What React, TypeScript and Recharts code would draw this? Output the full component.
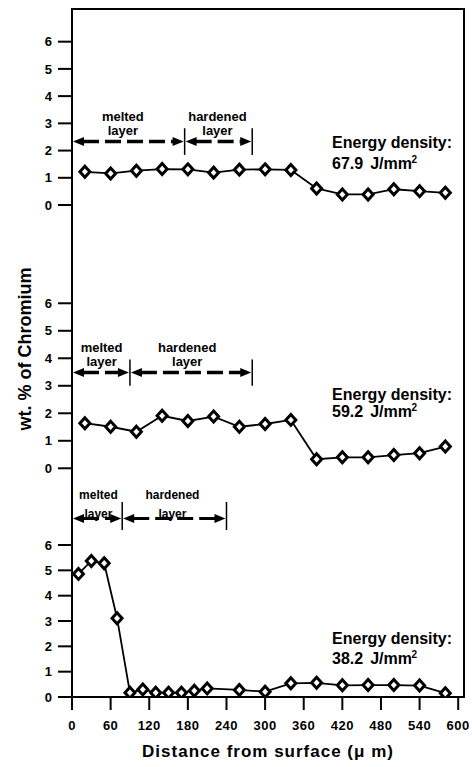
import React from 'react';
import { LineChart, Line, XAxis, YAxis, ReferenceLine, ReferenceDot, ReferenceArea } from 'recharts';

// ---------- data ----------
const distance67 = [20, 60, 100, 140, 180, 220, 260, 300, 340, 380, 420, 460, 500, 540, 580];
const chromium67 = [1.22, 1.16, 1.26, 1.32, 1.31, 1.19, 1.3, 1.31, 1.29, 0.61, 0.39, 0.39, 0.58, 0.51, 0.45];

const distance59 = [20, 60, 100, 140, 180, 220, 260, 300, 340, 380, 420, 460, 500, 540, 580];
const chromium59 = [1.64, 1.51, 1.33, 1.91, 1.72, 1.88, 1.51, 1.61, 1.76, 0.33, 0.4, 0.4, 0.48, 0.55, 0.79];

const distance38 = [10, 30, 50, 70, 90, 110, 130, 150, 170, 190, 210, 260, 300, 340, 380, 420, 460, 500, 540, 580];
const chromium38 = [4.86, 5.37, 5.28, 3.11, 0.17, 0.3, 0.17, 0.17, 0.17, 0.25, 0.34, 0.28, 0.21, 0.54, 0.56, 0.46, 0.47, 0.47, 0.45, 0.15];

const xTicks = [0, 60, 120, 180, 240, 300, 360, 420, 480, 540, 600];
const yTicks = [0, 1, 2, 3, 4, 5, 6];

const energyValues = ['67.9', '59.2', '38.2'];
const layerBounds67 = [0, 175, 280];
const layerBounds59 = [0, 90, 280];
const layerBounds38 = [0, 78, 240];

const xTitle = 'Distance from surface (\u03bc m)';
const yTitle = 'wt. % of Chromium';

// ---------- layout ----------
const W = 472;
const H = 767;
const X_MAX = 609;
const MARGIN = { top: 9, right: 8, bottom: 0, left: 12 };
const FONT = '"Liberation Sans", Arial, Helvetica, sans-serif';

const toRows = (xs: number[], ys: number[]) => xs.map((x, i) => ({ x, y: ys[i] }));

const panels = [
  {
    key: 'p67',
    data: toRows(distance67, chromium67),
    domain: [-18.07, 7.2],
    bounds: layerBounds67,
    arrowY: 2.33,
    bar: [1.84, 2.82],
    arrowW: 3.5,
    layerFont: 13,
    melted: { x: 79, y1: 3.24, y2: 2.73 },
    hardened: { x: 226, y1: 3.24, y2: 2.73 },
    energy: { x: 404, y1: 2.29, y2: 1.53 },
    value: energyValues[0],
    bottom: false,
  },
  {
    key: 'p59',
    data: toRows(distance59, chromium59),
    domain: [-8.316, 16.7],
    bounds: layerBounds59,
    arrowY: 3.48,
    bar: [3.0, 3.96],
    arrowW: 3.5,
    layerFont: 13,
    melted: { x: 46, y1: 4.39, y2: 3.88 },
    hardened: { x: 179, y1: 4.39, y2: 3.88 },
    energy: { x: 404, y1: 2.67, y2: 2.06 },
    value: energyValues[1],
    bottom: false,
  },
  {
    key: 'p38',
    data: toRows(distance38, chromium38),
    domain: [0, 27.16],
    bounds: layerBounds38,
    arrowY: 7.05,
    bar: [6.59, 7.7],
    arrowW: 3,
    layerFont: 12,
    melted: { x: 41, y1: 7.97, y2: 7.25 },
    hardened: { x: 156, y1: 7.97, y2: 7.25 },
    energy: { x: 404, y1: 2.32, y2: 1.53 },
    value: energyValues[2],
    bottom: true,
  },
];

// ---------- shapes ----------
const renderDiamond = (props: any) => {
  const { cx, cy, index } = props;
  if (cx == null || cy == null) return <g key={`d-${index}`} />;
  return (
    <path
      key={`d-${index}`}
      d={`M${cx},${cy - 5.5}L${cx + 5},${cy}L${cx},${cy + 5.5}L${cx - 5},${cy}Z`}
      fill="#fff"
      stroke="#000"
      strokeWidth={3}
      strokeLinejoin="miter"
    />
  );
};

const makeArrow = (thick: number) => (props: any) => {
  const { x1, y1, x2 } = props;
  const y = y1;
  const head = 11;
  const hw = 4.5;
  const a = Math.min(x1, x2) + 1;
  const b = Math.max(x1, x2) - 1;
  return (
    <g>
      <line x1={a + head - 1} y1={y} x2={b - head + 1} y2={y} stroke="#000" strokeWidth={thick} strokeDasharray="16 6" />
      <path d={`M${a},${y}L${a + head},${y - hw}L${a + head},${y + hw}Z`} fill="#000" />
      <path d={`M${b},${y}L${b - head},${y - hw}L${b - head},${y + hw}Z`} fill="#000" />
    </g>
  );
};

const makeText = (text: string, size: number, anchor: 'start' | 'middle') => (props: any) => (
  <text
    x={props.cx}
    y={props.cy}
    dy="0.35em"
    textAnchor={anchor}
    fontFamily={FONT}
    fontWeight="bold"
    fontSize={size}
    fill="#000"
  >
    {text}
  </text>
);

const makeEnergyValue = (value: string) => (props: any) => (
  <text x={props.cx} y={props.cy} dy="0.35em" fontFamily={FONT} fontWeight="bold" fontSize={16} fill="#000">
    {value}
    <tspan dx={7}>J/mm</tspan>
    <tspan fontSize={10} dx={-0.5} dy={-6}>2</tspan>
  </text>
);

const XTitle = (props: any) => {
  const vb = props.viewBox || { x: 72, y: 697, width: 392, height: 70 };
  return (
    <text
      x={vb.x + vb.width / 2}
      y={vb.y + 60}
      textAnchor="middle"
      fontFamily={FONT}
      fontWeight="bold"
      fontSize={17}
      letterSpacing={1}
      fill="#000"
    >
      {xTitle}
    </text>
  );
};

const YTitle = (props: any) => {
  const vb = props.viewBox || { x: 12, y: 9, width: 60, height: 688 };
  const cx = 25;
  const cy = vb.y + vb.height / 2 - 4;
  return (
    <text
      x={cx}
      y={cy}
      dy="0.35em"
      transform={`rotate(-90, ${cx}, ${cy})`}
      textAnchor="middle"
      fontFamily={FONT}
      fontWeight="bold"
      fontSize={18}
      fill="#000"
    >
      {yTitle}
    </text>
  );
};

const tickStyle = { fill: '#000', fontSize: 13, fontWeight: 'bold', fontFamily: FONT } as any;

function Panel({ p }: { p: (typeof panels)[number] }) {
  const [b0, b1, b2] = p.bounds;
  return (
    <LineChart width={W} height={H} data={p.data} margin={MARGIN}>
      <XAxis
        dataKey="x"
        type="number"
        domain={[0, X_MAX]}
        allowDataOverflow
        ticks={xTicks}
        interval={0}
        height={70}
        tick={p.bottom ? { ...tickStyle, letterSpacing: 0.5 } : false}
        tickLine={p.bottom ? { stroke: '#000', strokeWidth: 2 } : false}
        axisLine={p.bottom ? { stroke: '#000', strokeWidth: 2 } : false}
        tickSize={13}
        tickMargin={11}
        label={p.bottom ? (lp: any) => <XTitle {...lp} /> : undefined}
      />
      <YAxis
        type="number"
        domain={p.domain as [number, number]}
        allowDataOverflow
        ticks={yTicks}
        interval={0}
        width={60}
        tick={tickStyle}
        tickLine={{ stroke: '#000', strokeWidth: 2 }}
        axisLine={p.bottom ? { stroke: '#000', strokeWidth: 2 } : false}
        tickSize={14}
        tickMargin={6}
        label={p.bottom ? (lp: any) => <YTitle {...lp} /> : undefined}
      />
      {p.bottom && (
        <ReferenceArea
          x1={0}
          x2={X_MAX}
          y1={p.domain[0]}
          y2={p.domain[1]}
          fill="none"
          fillOpacity={0}
          stroke="#000"
          strokeWidth={2}
          ifOverflow="visible"
        />
      )}
      <ReferenceLine
        segment={[{ x: b0, y: p.arrowY }, { x: b1, y: p.arrowY }]}
        shape={makeArrow(p.arrowW)}
        ifOverflow="visible"
      />
      <ReferenceLine
        segment={[{ x: b1, y: p.arrowY }, { x: b2, y: p.arrowY }]}
        shape={makeArrow(p.arrowW)}
        ifOverflow="visible"
      />
      <ReferenceLine
        segment={[{ x: b1, y: p.bar[0] }, { x: b1, y: p.bar[1] }]}
        stroke="#000"
        strokeWidth={1.5}
        ifOverflow="visible"
      />
      <ReferenceLine
        segment={[{ x: b2, y: p.bar[0] }, { x: b2, y: p.bar[1] }]}
        stroke="#000"
        strokeWidth={1.5}
        ifOverflow="visible"
      />
      <ReferenceDot x={p.melted.x} y={p.melted.y1} r={0} ifOverflow="visible" shape={makeText('melted', p.layerFont, 'middle')} />
      <ReferenceDot x={p.melted.x} y={p.melted.y2} r={0} ifOverflow="visible" shape={makeText('layer', p.layerFont, 'middle')} />
      <ReferenceDot x={p.hardened.x} y={p.hardened.y1} r={0} ifOverflow="visible" shape={makeText('hardened', p.layerFont, 'middle')} />
      <ReferenceDot x={p.hardened.x} y={p.hardened.y2} r={0} ifOverflow="visible" shape={makeText('layer', p.layerFont, 'middle')} />
      <ReferenceDot x={p.energy.x} y={p.energy.y1} r={0} ifOverflow="visible" shape={makeText('Energy density:', 16, 'start')} />
      <ReferenceDot x={p.energy.x} y={p.energy.y2} r={0} ifOverflow="visible" shape={makeEnergyValue(p.value)} />
      <Line
        dataKey="y"
        stroke="#000"
        strokeWidth={1.8}
        dot={renderDiamond}
        activeDot={false}
        isAnimationActive={false}
      />
    </LineChart>
  );
}

export default function App() {
  return (
    <div style={{ position: 'absolute', left: 0, top: 0, width: W, height: H, background: '#fff' }}>
      {panels.map((p) => (
        <div key={p.key} style={{ position: 'absolute', left: 0, top: 0, width: W, height: H }}>
          <Panel p={p} />
        </div>
      ))}
    </div>
  );
}
